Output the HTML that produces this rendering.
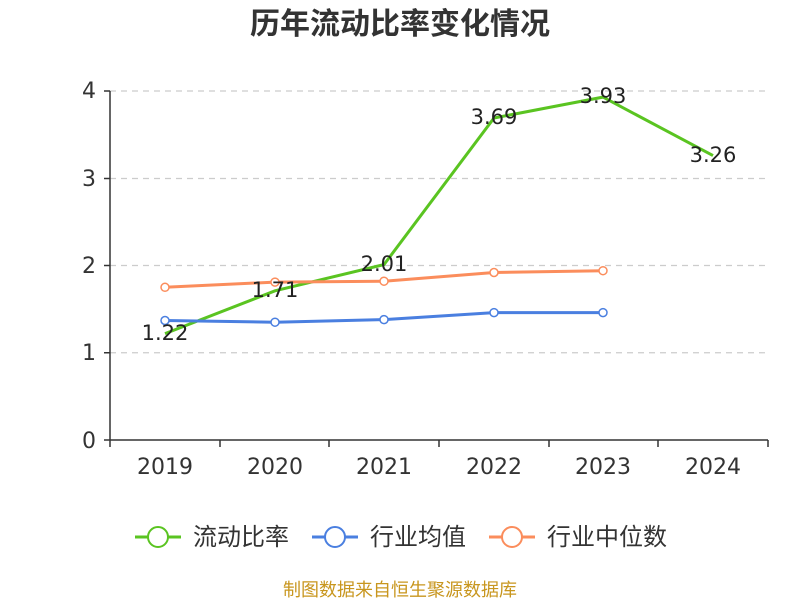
<!DOCTYPE html>
<html><head><meta charset="utf-8"><style>body{margin:0;background:#fff}</style></head><body>
<svg width="800" height="600" xmlns="http://www.w3.org/2000/svg" font-family="'DejaVu Sans','Noto Sans CJK SC',sans-serif">
<text x="400" y="34" text-anchor="middle" font-size="30" font-weight="bold" fill="#333" font-family="'Noto Sans CJK SC',sans-serif">历年流动比率变化情况</text>
<g stroke="#ccc" stroke-dasharray="6,5" stroke-width="1.2">
<line x1="110" y1="91" x2="768" y2="91"/><line x1="110" y1="178.5" x2="768" y2="178.5"/><line x1="110" y1="265.5" x2="768" y2="265.5"/><line x1="110" y1="352.75" x2="768" y2="352.75"/>
</g>
<g stroke="#333" stroke-width="1.5">
<line x1="110" y1="91" x2="110" y2="440"/><line x1="110" y1="440" x2="768" y2="440"/>
<line x1="104" y1="91" x2="110" y2="91"/><line x1="104" y1="178.5" x2="110" y2="178.5"/><line x1="104" y1="265.5" x2="110" y2="265.5"/><line x1="104" y1="352.75" x2="110" y2="352.75"/><line x1="104" y1="440" x2="110" y2="440"/>
<line x1="110" y1="440" x2="110" y2="447"/><line x1="220" y1="440" x2="220" y2="447"/><line x1="329" y1="440" x2="329" y2="447"/><line x1="439" y1="440" x2="439" y2="447"/><line x1="549" y1="440" x2="549" y2="447"/><line x1="658" y1="440" x2="658" y2="447"/><line x1="768" y1="440" x2="768" y2="447"/>
</g>
<g font-size="22" fill="#333" text-anchor="end">
<text x="96" y="98">4</text><text x="96" y="186">3</text><text x="96" y="273">2</text><text x="96" y="360">1</text><text x="96" y="448">0</text>
</g>
<g font-size="22" fill="#333" text-anchor="middle">
<text x="165" y="474">2019</text><text x="275" y="474">2020</text><text x="384" y="474">2021</text><text x="494" y="474">2022</text><text x="603" y="474">2023</text><text x="713" y="474">2024</text>
</g>
<polyline fill="none" stroke="#5ac421" stroke-width="3" points="165,333.6 275,290.8 384,264.6 494,118 603,97.1 713,155.6"/>
<polyline fill="none" stroke="#4a7fe0" stroke-width="3" points="165,320.5 275,322.2 384,319.6 494,312.6 603,312.6"/>
<polyline fill="none" stroke="#fb8d5c" stroke-width="3" points="165,287.3 275,282.1 384,281.2 494,272.5 603,270.7"/>
<g fill="#fff" stroke="#4a7fe0" stroke-width="1.5">
<circle cx="165" cy="320.5" r="4"/><circle cx="275" cy="322.2" r="4"/><circle cx="384" cy="319.6" r="4"/><circle cx="494" cy="312.6" r="4"/><circle cx="603" cy="312.6" r="4"/>
</g>
<g fill="#fff" stroke="#fb8d5c" stroke-width="1.5">
<circle cx="165" cy="287.3" r="4"/><circle cx="275" cy="282.1" r="4"/><circle cx="384" cy="281.2" r="4"/><circle cx="494" cy="272.5" r="4"/><circle cx="603" cy="270.7" r="4"/>
</g>
<g font-size="21" fill="#222" text-anchor="middle">
<text x="165" y="340">1.22</text><text x="275" y="297">1.71</text><text x="384" y="271">2.01</text><text x="494" y="124">3.69</text><text x="603" y="103">3.93</text><text x="713" y="162">3.26</text>
</g>
<g font-size="24" fill="#333" font-family="'Noto Sans CJK SC',sans-serif">
<line x1="135" y1="537" x2="181" y2="537" stroke="#5ac421" stroke-width="3"/><circle cx="158" cy="537" r="10" fill="#fff" stroke="#5ac421" stroke-width="2"/><text x="193" y="545">流动比率</text>
<line x1="312" y1="537" x2="358" y2="537" stroke="#4a7fe0" stroke-width="3"/><circle cx="335" cy="537" r="10" fill="#fff" stroke="#4a7fe0" stroke-width="2"/><text x="370" y="545">行业均值</text>
<line x1="489" y1="537" x2="535" y2="537" stroke="#fb8d5c" stroke-width="3"/><circle cx="512" cy="537" r="10" fill="#fff" stroke="#fb8d5c" stroke-width="2"/><text x="547" y="545">行业中位数</text>
</g>
<text x="400" y="596" text-anchor="middle" font-size="18" fill="#c8961e" font-family="'Noto Sans CJK SC',sans-serif">制图数据来自恒生聚源数据库</text>
</svg>
</body></html>
